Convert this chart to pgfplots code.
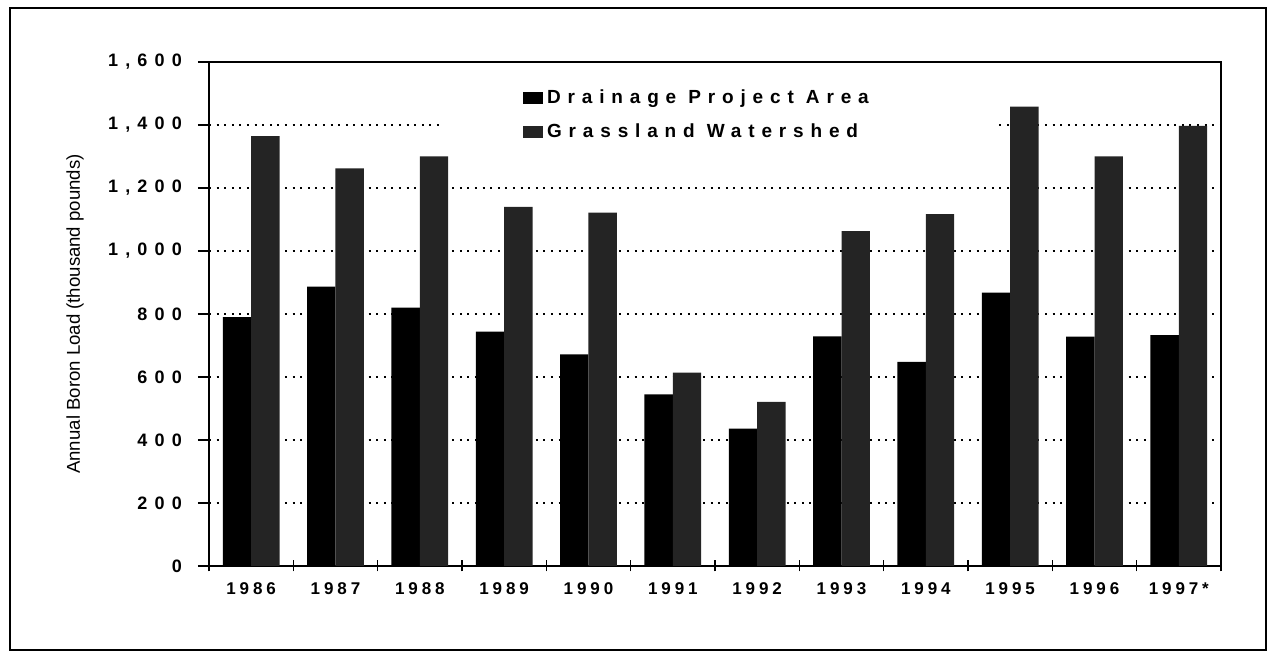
\documentclass[border=0pt]{standalone}
\usepackage{pgfplots}
\pgfplotsset{compat=1.18}
\usepackage{fontspec}
\setmainfont{Liberation Sans}
\newfontfamily\xtfont[LetterSpace=23]{Liberation Sans}
\newfontfamily\ytfont[LetterSpace=40]{Liberation Sans}
\newfontfamily\lgfont[LetterSpace=36]{Liberation Sans}
\definecolor{grassgray}{RGB}{36,36,36}

\pgfplotstableread{
idx drainage grassland
0 790 1365
1 887 1262
2 820 1300
3 744 1140
4 672 1122
5 545 614
6 436 521
7 729 1063
8 648 1117
9 868 1458
10 728 1300
11 733 1397
}\boron

\begin{document}
\begin{tikzpicture}
\useasboundingbox (-104.5pt,-48pt) rectangle (531pt,283pt);
\draw[line width=0.8pt] (-99.5pt,-42pt) rectangle (528.5pt,279pt);
\begin{axis}[
  at={(0pt,0pt)}, anchor=south west,
  width=506pt, height=252pt, scale only axis,
  ybar=0pt, bar width=14.2pt,
  xmin=-0.5, xmax=11.5,
  ymin=0, ymax=1600,
  xtick={-0.5,0.5,...,11.5},
  x tick label as interval,
  xticklabels={1986,1987,1988,1989,1990,1991,1992,1993,1994,1995,1996,1997*},
  ytick={0,200,...,1600},
  yticklabels={0,200,400,600,800,{1,000},{1,200},{1,400},{1,600}},
  xtick align=center, ytick align=outside,
  major tick length=5.5pt,
  tick style={black, line width=0.7pt},
  xtick pos=bottom, ytick pos=left,
  axis line style={black, line width=0.8pt},
  ymajorgrids,
  grid style={black, line width=0.6pt, dash pattern=on 1pt off 2.8pt},
  xticklabel style={font=\xtfont\bfseries\fontsize{8.5}{10}\selectfont, yshift=-2pt},
  yticklabel style={font=\ytfont\bfseries\fontsize{9}{10}\selectfont, xshift=-4.5pt},
  ylabel={Annual Boron Load (thousand pounds)},
  ylabel style={at={(axis description cs:-0.1324,0.5)}, anchor=center, font=\fontsize{9.3}{11}\selectfont},
  legend style={at={(axis description cs:0.228,0.962)}, anchor=north west,
    draw=none, fill=white, inner xsep=41.5pt, inner ysep=2pt,
    font=\lgfont\bfseries\fontsize{9.5}{11}\selectfont, row sep=4.5pt,
    legend cell align=left},
  legend image code/.code={\path[#1,draw=none] (0pt,-3pt) rectangle (10pt,3pt);},
]
\addplot[fill=black, draw=none] table[x=idx, y=drainage] {\boron};
\addplot[fill=grassgray, draw=none] table[x=idx, y=grassland] {\boron};
\legend{Drainage Project Area\rule{21pt}{0pt}, Grassland Watershed}
\end{axis}
\end{tikzpicture}
\end{document}
